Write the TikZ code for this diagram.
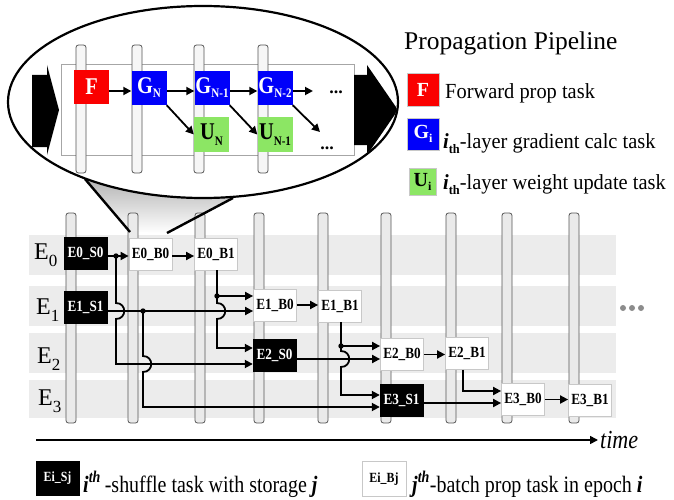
\documentclass[tikz,border=0pt]{standalone}
\usepackage{fontspec}
\setmainfont{Liberation Serif}
\newfontfamily\narrowserif[FakeStretch=0.85]{Liberation Serif}
\newfontfamily\keyserif[FakeStretch=0.95]{Liberation Serif}
\usetikzlibrary{arrows.meta,calc}

\definecolor{bandgray}{RGB}{236,236,236}
\definecolor{barfill}{RGB}{234,234,234}
\definecolor{innerbarfill}{RGB}{246,246,246}
\definecolor{barline}{RGB}{85,85,85}
\definecolor{taskred}{RGB}{250,0,0}
\definecolor{taskblue}{RGB}{0,0,250}
\definecolor{taskgreen}{RGB}{140,230,100}
\definecolor{moredots}{RGB}{140,140,140}
\definecolor{boxedge}{RGB}{200,200,200}
\definecolor{calloutgray}{RGB}{180,180,180}

\newcommand\fs[1]{\fontsize{#1}{#1}\selectfont}
\newcommand\lowsub[3]{\raisebox{-#2}{\fs{#1}#3}}

\begin{document}
\begin{tikzpicture}[x=1pt,y=-1pt,
  bar/.style={draw=barline, fill=barfill, line width=0.8pt, rounded corners=2.5pt},
  innerbar/.style={draw=barline, fill=innerbarfill, line width=0.8pt, rounded corners=2.5pt},
  link/.style={line width=1.8pt, -{Triangle[length=8pt,width=8pt]}},
  plain/.style={line width=1.8pt},
  taskbox/.style={minimum width=43pt, minimum height=32pt, inner sep=0pt,
    font=\narrowserif\bfseries\fs{15.5}},
  shuffle/.style={taskbox, fill=black, draw=black, text=white},
  batch/.style={taskbox, fill=white, draw=boxedge, line width=0.8pt},
  stage/.style={minimum width=35pt, minimum height=34pt, inner sep=0pt,
    font=\narrowserif\bfseries\fs{24}},
  fwd/.style={stage, fill=taskred, text=white},
  grad/.style={stage, fill=taskblue, text=white},
  upd/.style={stage, fill=taskgreen, text=black},
  keybox/.style={draw=boxedge, line width=0.6pt, font=\bfseries\fs{20}},
  rowlbl/.style={anchor=base west, inner sep=0pt, font=\fs{24}},
  keytext/.style={anchor=base west, inner sep=0pt, font=\keyserif\fs{21.5}},
  foottext/.style={anchor=base west, inner sep=0pt, font=\narrowserif\fs{23.5}}]

\useasboundingbox (0,0) rectangle (674,500);

% epoch bands
\fill[bandgray] (29,235) rectangle (616,275);
\fill[bandgray] (29,286) rectangle (616,326);
\fill[bandgray] (29,333) rectangle (616,373);
\fill[bandgray] (29,380) rectangle (616,418);

% callout pointer and magnifier ellipse
\shade[top color=calloutgray, bottom color=white]
  (85,179) -- (130,232) -- (167,233) -- (233,198) -- cycle;
\draw[line width=2.2pt, fill=white] (203,102) ellipse [x radius=195pt, y radius=96pt];

\begin{scope}
  \clip (203,102) ellipse [x radius=194pt, y radius=95pt];
  \draw[draw=gray!70, fill=white, line width=0.8pt] (61,64) rectangle (354,155);
  \foreach \x in {81,137,199,263}
    \draw[innerbar] (\x-5,45) rectangle (\x+5,173);
  \fill (32,75) -- (47,75) -- (47,65) -- (59,110) -- (47,155) -- (47,147) -- (32,147) -- cycle;
  \fill (354,75) -- (367,75) -- (367,65) -- (398,110) -- (367,155) -- (367,145) -- (354,145) -- cycle;
\end{scope}

% pipeline stages
\node[fwd]  (F)   at (91.5,87) {F};
\node[grad] (GN)  at (149,88) {G\lowsub{13}{4pt}{N}};
\node[grad] (GN1) at (212,88) {G\lowsub{13}{4pt}{N-1}};
\node[grad] (GN2) at (275,88) {G\lowsub{13}{4pt}{N-2}};
\node[upd]  (UN)  at (211.5,134.5) {U\lowsub{13}{6pt}{N}};
\node[upd]  (UN1) at (275,134.5) {U\lowsub{13}{6pt}{N-1}};
\node[inner sep=0pt, font=\bfseries\fs{18}] (moreA) at (336,92) {...};
\node[inner sep=0pt, font=\bfseries\fs{18}] (moreB) at (327,148) {...};

\coordinate (pipe) at (0,91);
\coordinate (tipA) at (313,91);
\coordinate (tipB) at (320,132);
\draw[link] (F.east |- pipe) -- (GN.west |- pipe);
\draw[link] (GN.east |- pipe) -- (GN1.west |- pipe);
\draw[link] (GN1.east |- pipe) -- (GN2.west |- pipe);
\draw[link] (GN2.east |- pipe) -- (tipA);
\draw[link] (GN.south east) -- (UN.west);
\draw[link] (GN1.south east) -- (UN1.west);
\draw[link] (GN2.south east) -- (tipB);

% time slots
\foreach \x in {71,133,200,259,323,386,451,507,574}
  \draw[bar] (\x-5,213) rectangle (\x+5,423);

\draw[line width=2.4pt] (85,179) -- (130,232);
\draw[line width=2.4pt] (233,198) -- (167,233);

% epoch labels
\node[rowlbl] (lblE0) at (34,259) {E\lowsub{17}{7pt}{0}};
\node[rowlbl] (lblE1) at (36,314) {E\lowsub{17}{7pt}{1}};
\node[rowlbl] (lblE2) at (37,363) {E\lowsub{17}{7pt}{2}};
\node[rowlbl] (lblE3) at (38,405) {E\lowsub{17}{7pt}{3}};

% tasks
\node[shuffle] (e0s0) at (85.5,253) {E0\_S0};
\node[shuffle] (e1s1) at (85.5,307.5) {E1\_S1};
\node[batch]   (e0b0) at (150.5,254) {E0\_B0};
\node[batch]   (e0b1) at (216,254) {E0\_B1};
\node[batch]   (e1b0) at (275,305) {E1\_B0};
\node[batch]   (e1b1) at (340,306) {E1\_B1};
\node[shuffle] (e2s0) at (274.5,355) {E2\_S0};
\node[batch]   (e2b0) at (402,354.5) {E2\_B0};
\node[batch]   (e2b1) at (467,353.5) {E2\_B1};
\node[shuffle] (e3s1) at (401.5,400.5) {E3\_S1};
\node[batch]   (e3b0) at (523,399.5) {E3\_B0};
\node[batch]   (e3b1) at (590,400.5) {E3\_B1};

% branch points and wire levels
\coordinate (j0) at (116,256);
\coordinate (j1) at (143,311);
\coordinate (j2) at (217,296);
\coordinate (j3) at (341,346);
\coordinate (j4) at (463,391);
\coordinate (y2a) at (0,348);
\coordinate (y2b) at (0,364);
\coordinate (y2c) at (0,359);
\coordinate (y3a) at (0,395);
\coordinate (y3b) at (0,407);
\coordinate (y3c) at (0,403);

% dependencies
\draw[link] (e0s0.east |- j0) -- (e0b0.west |- j0);
\draw[link] (e0b0.east |- j0) -- (e0b1.west |- j0);
\draw[link] (e1s1.east |- j1) -- (e1b0.west |- j1);
\draw[link] (j0) -- ($(j0 |- j1)+(0,-8)$) .. controls +(11,0) and +(11,0) .. ($(j0 |- j1)+(0,8)$)
  -- (j0 |- y2b) -- (e2s0.west |- y2b);
\draw[link] (j1) -- ($(j1 |- y2b)+(0,-8)$) .. controls +(11,0) and +(11,0) .. ($(j1 |- y2b)+(0,8)$)
  -- (j1 |- y3b) -- (e3s1.west |- y3b);
\draw[plain] (j2 |- e0b1.south) -- (j2);
\draw[link] (j2) -- (e1b0.west |- j2);
\draw[link] (j2) -- ($(j2 |- j1)+(0,-8)$) .. controls +(11,0) and +(11,0) .. ($(j2 |- j1)+(0,8)$)
  -- (j2 |- y2a) -- (e2s0.west |- y2a);
\draw[link] (e1b0.east) -- (e1b1.west |- e1b0.east);
\draw[plain] (j3 |- e1b1.south) -- (j3);
\draw[link] (j3) -- (e2b0.west |- j3);
\draw[link] (j3) -- ($(j3 |- y2c)+(0,-8)$) .. controls +(11,0) and +(11,0) .. ($(j3 |- y2c)+(0,8)$)
  -- (j3 |- y3a) -- (e3s1.west |- y3a);
\draw[link] (e2s0.east |- y2c) -- (e2b0.west |- y2c);
\draw[link] (e2b0.east) -- (e2b1.west |- e2b0.east);
\draw[link] (j4 |- e2b1.south) -- (j4) -- (e3b0.west |- j4);
\draw[link] (e3s1.east |- y3c) -- (e3b0.west |- y3c);
\draw[link] (e3b0.east) -- (e3b1.west |- e3b0.east);
\foreach \j in {j0,j1,j2,j3} \fill (\j) circle (2.7pt);

% continuation marks
\foreach \x in {623,632,641} \fill[moredots] (\x,308) circle (3pt);

% time axis
\node[anchor=west, inner sep=0pt, font=\narrowserif\itshape\fs{26}] (timelbl) at (600,440) {time};
\coordinate (t0) at (36,440);
\draw[link, line width=1.6pt] (t0) -- ([xshift=-2pt]timelbl.west);

% pipeline key
\node[anchor=base west, inner sep=0pt, font=\fs{25.5}] (title) at (404,50) {Propagation Pipeline};
\node[fwd, keybox, minimum width=32pt, minimum height=33pt] (keyF) at (423,89.5) {F};
\node[keytext] (keyFtxt) at (445,99) {Forward prop task};
\node[grad, keybox, minimum width=32pt, minimum height=32pt] (keyG) at (423,134) {G\lowsub{12}{4pt}{i}};
\node[keytext] (keyGtxt) at (443,148) {\textbf{\textit{i}}\lowsub{13}{5pt}{\textbf{th}}-layer gradient calc task};
\node[upd, keybox, minimum width=27pt, minimum height=27pt] (keyU) at (422.5,181.5) {U\lowsub{12}{4pt}{i}};
\node[keytext] (keyUtxt) at (443,189) {\textbf{\textit{i}}\lowsub{13}{5pt}{\textbf{th}}-layer weight update task};

% task key
\node[shuffle, minimum width=43pt, minimum height=34pt, font=\narrowserif\bfseries\fs{14}] (keyS) at (57.5,478) {Ei\_Sj};
\node[foottext] (keyStxt) at (83,492) {\textbf{\textit{i}}\textsuperscript{\textbf{\textit{th}}}\,-shuffle task with storage \textbf{\textit{j}}};
\node[batch, minimum width=44pt, minimum height=35pt, font=\narrowserif\bfseries\fs{14}] (keyB) at (384,479) {Ei\_Bj};
\node[foottext] (keyBtxt) at (412,492) {\textbf{\textit{j}}\textsuperscript{\textbf{\textit{th}}}-batch prop task in epoch \textbf{\textit{i}}};

\end{tikzpicture}
\end{document}
